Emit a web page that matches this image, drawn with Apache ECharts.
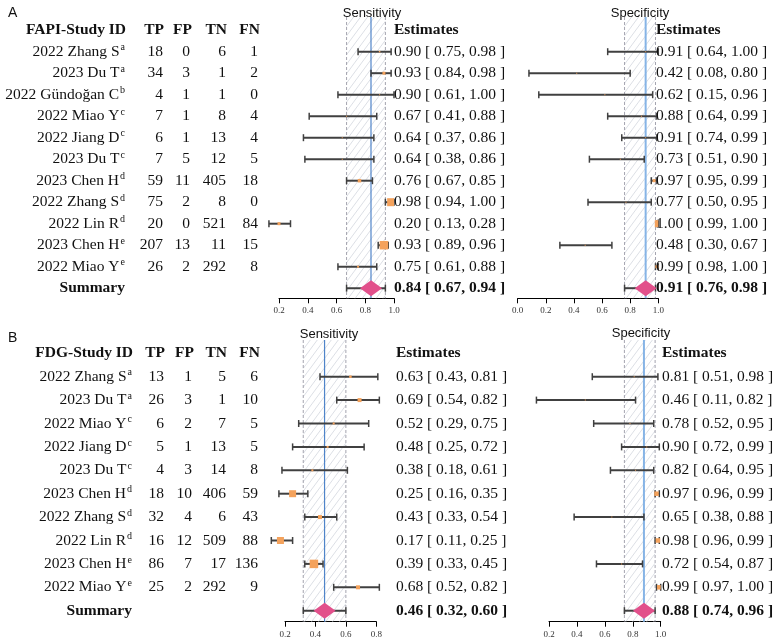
<!DOCTYPE html>
<html><head><meta charset="utf-8">
<script src="https://cdn.jsdelivr.net/npm/echarts@6/dist/echarts.min.js"></script>
<style>html,body{margin:0;padding:0;background:#fff}#c{width:778px;height:643px}</style>
</head><body><div id="c"></div>
<script>
// ---------------- DATA: Panel A (FAPI) ----------------
const studiesA = ['2022 Zhang S','2023 Du T','2022 Gündoğan C','2022 Miao Y','2022 Jiang D','2023 Du T','2023 Chen H','2022 Zhang S','2022 Lin R','2023 Chen H','2022 Miao Y'];
const supA = ['a','a','b','c','c','c','d','d','d','e','e'];
const tpA = [18,34,4,7,6,7,59,75,20,207,26];
const fpA = [0,3,1,1,1,5,11,2,0,13,2];
const tnA = [6,1,1,8,13,12,405,8,521,11,292];
const fnA = [1,2,0,4,4,5,18,0,84,15,8];
const sensA   = [0.90,0.93,0.90,0.67,0.64,0.64,0.76,0.98,0.20,0.93,0.75];
const sensLoA = [0.75,0.84,0.61,0.41,0.37,0.38,0.67,0.94,0.13,0.89,0.61];
const sensHiA = [0.98,0.98,1.00,0.88,0.86,0.86,0.85,1.00,0.28,0.96,0.88];
const sensWtA = [1.5,3,1,1,1,1,3.5,8,3,8.5,2];
const sensSumA = [0.84,0.67,0.94];
const specA   = [0.91,0.42,0.62,0.88,0.91,0.73,0.97,0.77,1.00,0.48,0.99];
const specLoA = [0.64,0.08,0.15,0.64,0.74,0.51,0.95,0.50,0.99,0.30,0.98];
const specHiA = [1.00,0.80,0.96,0.99,0.99,0.90,0.99,0.95,1.00,0.67,1.00];
const specWtA = [1,1,1,1,1,1,3,1,7,1,3];
const specSumA = [0.91,0.76,0.98];
const ticksSensA = [0.2,1.0];
const ticksSpecA = [0.0,1.0];

// ---------------- DATA: Panel B (FDG) ----------------
const studiesB = ['2022 Zhang S','2023 Du T','2022 Miao Y','2022 Jiang D','2023 Du T','2023 Chen H','2022 Zhang S','2022 Lin R','2023 Chen H','2022 Miao Y'];
const supB = ['a','a','c','c','c','d','d','d','e','e'];
const tpB = [13,26,6,5,4,18,32,16,86,25];
const fpB = [1,3,2,1,3,10,4,12,7,2];
const tnB = [5,1,7,13,14,406,6,509,17,292];
const fnB = [6,10,5,5,8,59,43,88,136,9];
const sensB   = [0.63,0.69,0.52,0.48,0.38,0.25,0.43,0.17,0.39,0.68];
const sensLoB = [0.43,0.54,0.29,0.25,0.18,0.16,0.33,0.11,0.33,0.52];
const sensHiB = [0.81,0.82,0.75,0.72,0.61,0.35,0.54,0.25,0.45,0.82];
const sensWtB = [2.5,4,2,2,2,7,4,7,8.5,4];
const sensSumB = [0.46,0.32,0.60];
const specB   = [0.81,0.46,0.78,0.90,0.82,0.97,0.65,0.98,0.72,0.99];
const specLoB = [0.51,0.11,0.52,0.72,0.64,0.96,0.38,0.96,0.54,0.97];
const specHiB = [0.98,0.82,0.95,0.99,0.95,0.99,0.88,0.99,0.87,1.00];
const specWtB = [1,1,1,1,1,4.5,1,4.5,1,4.5];
const specSumB = [0.88,0.74,0.96];
const ticksSensB = [0.2,0.8];
const ticksSpecB = [0.2,1.0];

// ---------------- STYLE / LAYOUT ----------------
const SERIF = 'Liberation Serif';
const SANS = 'Liberation Sans';
const FS = 15.5;
const INK = '#111';
const CI_COLOR = '#404040';
const SQ_COLOR = '#f4a25c';
const DIA_COLOR = '#e2508b';
const HATCH = '#d3d7de';

const chart = echarts.init(document.getElementById('c'), null, {renderer:'canvas'});

function hatchAndLines(gi, sum, blueColor, blueW) {
  return {
    type:'custom', xAxisIndex:gi, yAxisIndex:gi, silent:true, z:1, data:[sum],
    renderItem(params, api) {
      const cs = params.coordSys;
      const y0 = cs.y, y1 = cs.y + cs.height;
      const xe = api.coord([api.value(0), 0])[0];
      const xl = api.coord([api.value(1), 0])[0];
      const xh = api.coord([api.value(2), 0])[0];
      const w = xh - xl, h = y1 - y0, step = 7, slope = 1.35;
      const ch = [];
      for (let k = -h / slope; k < w; k += step) {
        const tmin = Math.max(0, -k * slope), tmax = Math.min(h, (w - k) * slope);
        if (tmin >= tmax) continue;
        ch.push({type:'line', shape:{x1:xl + k + tmin / slope, y1:y1 - tmin, x2:xl + k + tmax / slope, y2:y1 - tmax},
          style:{stroke:HATCH, lineWidth:0.8}});
      }
      [xl, xh].forEach(x => ch.push({type:'line', shape:{x1:x, y1:y0, x2:x, y2:y1},
        style:{stroke:'#9a9aa6', lineWidth:0.9, lineDash:[3,2]}}));
      ch.push({type:'line', shape:{x1:xe, y1:y0, x2:xe, y2:y1}, style:{stroke:blueColor, lineWidth:blueW}});
      return {type:'group', children:ch};
    }
  };
}

function ciSeries(gi, est, lo, hi, wt) {
  return {
    type:'custom', xAxisIndex:gi, yAxisIndex:gi, silent:true, z:3,
    data: est.map((e, i) => [i, e, lo[i], hi[i], wt[i]]),
    renderItem(params, api) {
      const r = api.value(0);
      const p = api.coord([api.value(1), r]);
      const xl = api.coord([api.value(2), r])[0];
      const xh = api.coord([api.value(3), r])[0];
      const xclip = api.coord([1, r])[0];
      const s = api.value(4), y = p[1];
      const ch = [
        {type:'line', shape:{x1:xl, y1:y, x2:xh, y2:y}, style:{stroke:CI_COLOR, lineWidth:2}},
        {type:'line', shape:{x1:xl, y1:y - 3.5, x2:xl, y2:y + 3.5}, style:{stroke:CI_COLOR, lineWidth:1.5}},
        {type:'line', shape:{x1:xh, y1:y - 3.5, x2:xh, y2:y + 3.5}, style:{stroke:CI_COLOR, lineWidth:1.5}}
      ];
      const left = p[0] - s / 2, right = Math.min(p[0] + s / 2, xclip);
      if (right > left) ch.push({type:'rect', shape:{x:left, y:y - s / 2, width:right - left, height:s}, style:{fill:SQ_COLOR}});
      return {type:'group', children:ch};
    }
  };
}

function summarySeries(gi, row, sum) {
  return {
    type:'custom', xAxisIndex:gi, yAxisIndex:gi, silent:true, z:4,
    data:[[row, sum[0], sum[1], sum[2]]],
    renderItem(params, api) {
      const r = api.value(0);
      const p = api.coord([api.value(1), r]);
      const xl = api.coord([api.value(2), r])[0];
      const xh = api.coord([api.value(3), r])[0];
      const y = p[1], hw = 11, hh = 8;
      return {type:'group', children:[
        {type:'line', shape:{x1:xl, y1:y, x2:xh, y2:y}, style:{stroke:CI_COLOR, lineWidth:2}},
        {type:'line', shape:{x1:xl, y1:y - 3.5, x2:xl, y2:y + 3.5}, style:{stroke:CI_COLOR, lineWidth:1.5}},
        {type:'line', shape:{x1:xh, y1:y - 3.5, x2:xh, y2:y + 3.5}, style:{stroke:CI_COLOR, lineWidth:1.5}},
        {type:'polygon', shape:{points:[[p[0] - hw, y], [p[0], y - hh], [p[0] + hw, y], [p[0], y + hh]]}, style:{fill:DIA_COLOR}}
      ]};
    }
  };
}

function txt(text, x, y, opt) {
  opt = opt || {};
  return {type:'text', style:{text:text, x:x, y:y, fill:INK, fontFamily:SERIF, fontSize:FS,
    fontWeight:opt.bold ? 'bold' : 'normal', align:opt.align || 'right', verticalAlign:'middle', rich:opt.rich}};
}

function tableSeries(gi, title, studies, sups, tp, fp, tn, fn, cols) {
  const n = studies.length;
  const rows = [-1];
  for (let i = 0; i <= n; i++) rows.push(i);
  return {
    type:'custom', xAxisIndex:gi, yAxisIndex:gi, silent:true, z:5,
    data: rows.map(r => [0.5, r]),
    renderItem(params, api) {
      const r = api.value(1);
      const y = api.coord([api.value(0), r])[1];
      const ch = [];
      if (r === -1) {
        ch.push(txt(title, cols.id + 1, y, {bold:true}));
        ch.push(txt('TP', cols.tp + 1, y, {bold:true}));
        ch.push(txt('FP', cols.fp + 2, y, {bold:true}));
        ch.push(txt('TN', cols.tn + 1, y, {bold:true}));
        ch.push(txt('FN', cols.fn + 2, y, {bold:true}));
      } else if (r === n) {
        ch.push(txt('Summary', cols.id, y, {bold:true}));
      } else {
        ch.push(txt('{n|' + studies[r] + '}{s|' + sups[r] + '}', cols.id, y, {rich:{
          n:{fontFamily:SERIF, fontSize:FS, lineHeight:18, fill:INK},
          s:{fontFamily:SERIF, fontSize:10, verticalAlign:'top', lineHeight:12, fill:INK, padding:[0,0,0,1]}
        }}));
        ch.push(txt(String(tp[r]), cols.tp, y));
        ch.push(txt(String(fp[r]), cols.fp, y));
        ch.push(txt(String(tn[r]), cols.tn, y));
        ch.push(txt(String(fn[r]), cols.fn, y));
      }
      return {type:'group', children:ch};
    }
  };
}

function estSeries(gi, est, lo, hi, sum, x) {
  const n = est.length;
  const data = [[0.5, -1, 0, 0, 0]];
  est.forEach((e, i) => data.push([0.5, i, e, lo[i], hi[i]]));
  data.push([0.5, n, sum[0], sum[1], sum[2]]);
  return {
    type:'custom', xAxisIndex:gi, yAxisIndex:gi, silent:true, z:5, data:data,
    renderItem(params, api) {
      const r = api.value(1);
      const y = api.coord([api.value(0), r])[1];
      if (r === -1) return txt('Estimates', x, y, {bold:true, align:'left'});
      const s = api.value(2).toFixed(2) + ' [ ' + api.value(3).toFixed(2) + ', ' + api.value(4).toFixed(2) + ' ]';
      return txt(s, x, y, {bold:r === n, align:'left'});
    }
  };
}

function xAxisDef(gi, ticks) {
  return {
    type:'value', gridIndex:gi, min:ticks[0], max:ticks[1], interval:0.2, position:'bottom',
    axisLine:{show:true, onZero:false, lineStyle:{color:'#000', width:1}},
    axisTick:{show:true, length:5, lineStyle:{color:'#000', width:1}},
    axisLabel:{fontFamily:SERIF, fontSize:9, color:'#333', margin:8, formatter:v => v.toFixed(1)},
    splitLine:{show:false}
  };
}
function yAxisDef(gi, mn, mx) {
  return {type:'value', gridIndex:gi, min:mn, max:mx, inverse:true, show:false, splitLine:{show:false}};
}

// row geometry A: row0 y=51.7, step 21.5, grid 17..298.3 ; B: row0 376.7, step 23.4, grid 340..621.7
const yA = [(17 - 51.7) / 21.5, (298.3 - 51.7) / 21.5];
const yB = [(340 - 376.7) / 23.4, (621.7 - 376.7) / 23.4];

const option = {
  backgroundColor:'#fff',
  animation:false,
  grid:[
    {left:279, top:17, width:115, height:281.3, outerBoundsMode:'none'},
    {left:517.7, top:17, width:140.6, height:281.3, outerBoundsMode:'none'},
    {left:285, top:340, width:91.3, height:281.7, outerBoundsMode:'none'},
    {left:549, top:340, width:111.7, height:281.7, outerBoundsMode:'none'}
  ],
  xAxis:[xAxisDef(0, ticksSensA), xAxisDef(1, ticksSpecA), xAxisDef(2, ticksSensB), xAxisDef(3, ticksSpecB)],
  yAxis:[yAxisDef(0, yA[0], yA[1]), yAxisDef(1, yA[0], yA[1]), yAxisDef(2, yB[0], yB[1]), yAxisDef(3, yB[0], yB[1])],
  graphic:[
    {type:'text', left:8, top:6, style:{text:'A', fontFamily:SANS, fontSize:14, fill:INK}},
    {type:'text', left:8, top:331, style:{text:'B', fontFamily:SANS, fontSize:14, fill:INK}},
    {type:'text', x:372, y:13, style:{text:'Sensitivity', fontFamily:SANS, fontSize:13, fill:INK, align:'center', verticalAlign:'middle'}},
    {type:'text', x:640, y:13, style:{text:'Specificity', fontFamily:SANS, fontSize:13, fill:INK, align:'center', verticalAlign:'middle'}},
    {type:'text', x:329, y:334, style:{text:'Sensitivity', fontFamily:SANS, fontSize:13, fill:INK, align:'center', verticalAlign:'middle'}},
    {type:'text', x:641, y:333, style:{text:'Specificity', fontFamily:SANS, fontSize:13, fill:INK, align:'center', verticalAlign:'middle'}}
  ],
  series:[
    hatchAndLines(0, sensSumA, '#4f84c9', 1.2),
    hatchAndLines(1, specSumA, '#86b4e6', 2),
    hatchAndLines(2, sensSumB, '#4f84c9', 1.2),
    hatchAndLines(3, specSumB, '#86b4e6', 2),
    ciSeries(0, sensA, sensLoA, sensHiA, sensWtA),
    ciSeries(1, specA, specLoA, specHiA, specWtA),
    ciSeries(2, sensB, sensLoB, sensHiB, sensWtB),
    ciSeries(3, specB, specLoB, specHiB, specWtB),
    summarySeries(0, studiesA.length, sensSumA),
    summarySeries(1, studiesA.length, specSumA),
    summarySeries(2, studiesB.length, sensSumB),
    summarySeries(3, studiesB.length, specSumB),
    tableSeries(0, 'FAPI-Study ID', studiesA, supA, tpA, fpA, tnA, fnA, {id:125, tp:163, fp:190, tn:226, fn:258}),
    tableSeries(2, 'FDG-Study ID', studiesB, supB, tpB, fpB, tnB, fnB, {id:132, tp:164, fp:192, tn:226, fn:258}),
    estSeries(0, sensA, sensLoA, sensHiA, sensSumA, 394),
    estSeries(1, specA, specLoA, specHiA, specSumA, 656),
    estSeries(2, sensB, sensLoB, sensHiB, sensSumB, 396),
    estSeries(3, specB, specLoB, specHiB, specSumB, 662)
  ]
};
chart.setOption(option);
</script></body></html>
